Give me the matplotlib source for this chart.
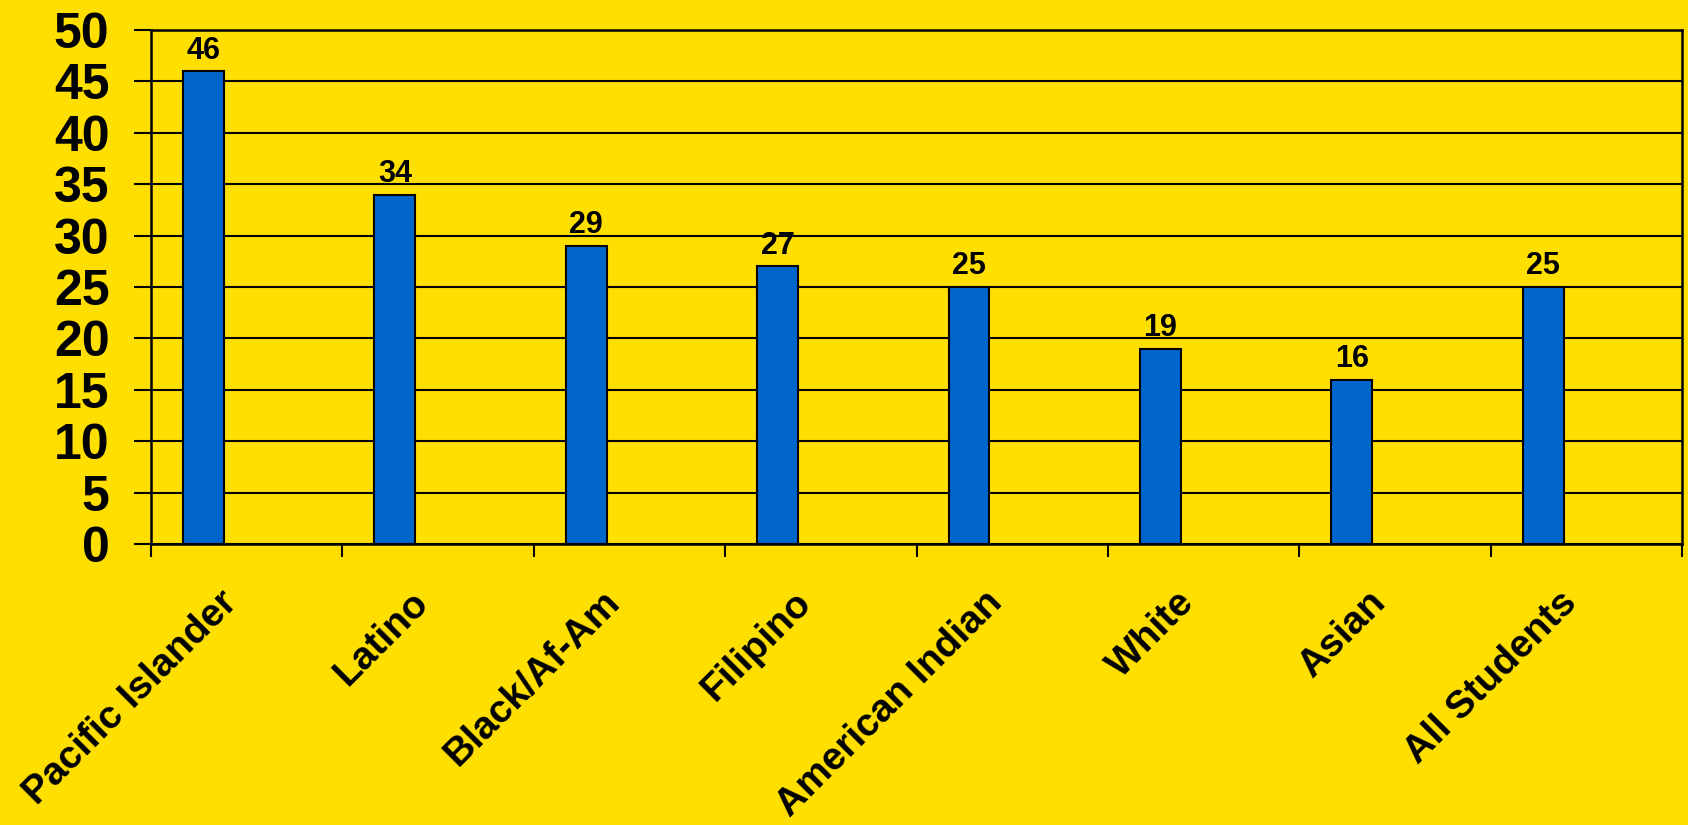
import matplotlib
matplotlib.use("Agg")
import matplotlib.pyplot as plt
import matplotlib.transforms as mtransforms
import numpy as np

groups = ["Pacific Islander", "Latino", "Black/Af-Am", "Filipino",
          "American Indian", "White", "Asian", "All Students"]
values = [46, 34, 29, 27, 25, 19, 16, 25]
y_ticks = [0, 5, 10, 15, 20, 25, 30, 35, 40, 45, 50]

BG = "#FFDF00"
BAR = "#0066CC"

plt.rcParams["font.family"] = ["Liberation Sans", "DejaVu Sans"]
plt.rcParams["font.weight"] = "bold"

fig = plt.figure(figsize=(16.88, 8.25), dpi=100, facecolor=BG)
ax = fig.add_axes([0.0895, 0.3406, 0.907, 0.623], facecolor=BG)

x = np.arange(len(groups))
ax.bar(x + 0.274, values, width=0.214, color=BAR, edgecolor="black",
       linewidth=1.5, zorder=3)

for xi, v in zip(x, values):
    ax.annotate(str(v), (xi + 0.274, v), xytext=(0, 4), textcoords="offset points",
                ha="center", va="bottom", fontsize=22, fontweight="bold")

ax.set_xlim(0, len(groups))
ax.set_ylim(0, 50)
ax.set_yticks(y_ticks)
ax.yaxis.grid(True, color="black", linewidth=1.5, zorder=0)
ax.tick_params(axis="y", length=12, width=1.5, pad=18, labelsize=36)
for lab in ax.get_yticklabels():
    lab.set_fontweight("bold")

# labels at group centres, tick marks at group boundaries
ax.set_xticks(x + 0.5)
ax.set_xticklabels(groups, rotation=45, ha="right", rotation_mode="anchor",
                   fontsize=28, fontweight="bold")
ax.tick_params(axis="x", which="major", length=0, pad=29)
shift = mtransforms.ScaledTranslation(-28 / 100, 0, fig.dpi_scale_trans)
for lab in ax.get_xticklabels():
    lab.set_transform(lab.get_transform() + shift)
ax.set_xticks(np.arange(len(groups) + 1), minor=True)
ax.tick_params(axis="x", which="minor", length=9.5, width=1.5)

for s in ax.spines.values():
    s.set_color("black")
    s.set_linewidth(1.8)

fig.savefig("out.png", dpi=100, facecolor=BG)
